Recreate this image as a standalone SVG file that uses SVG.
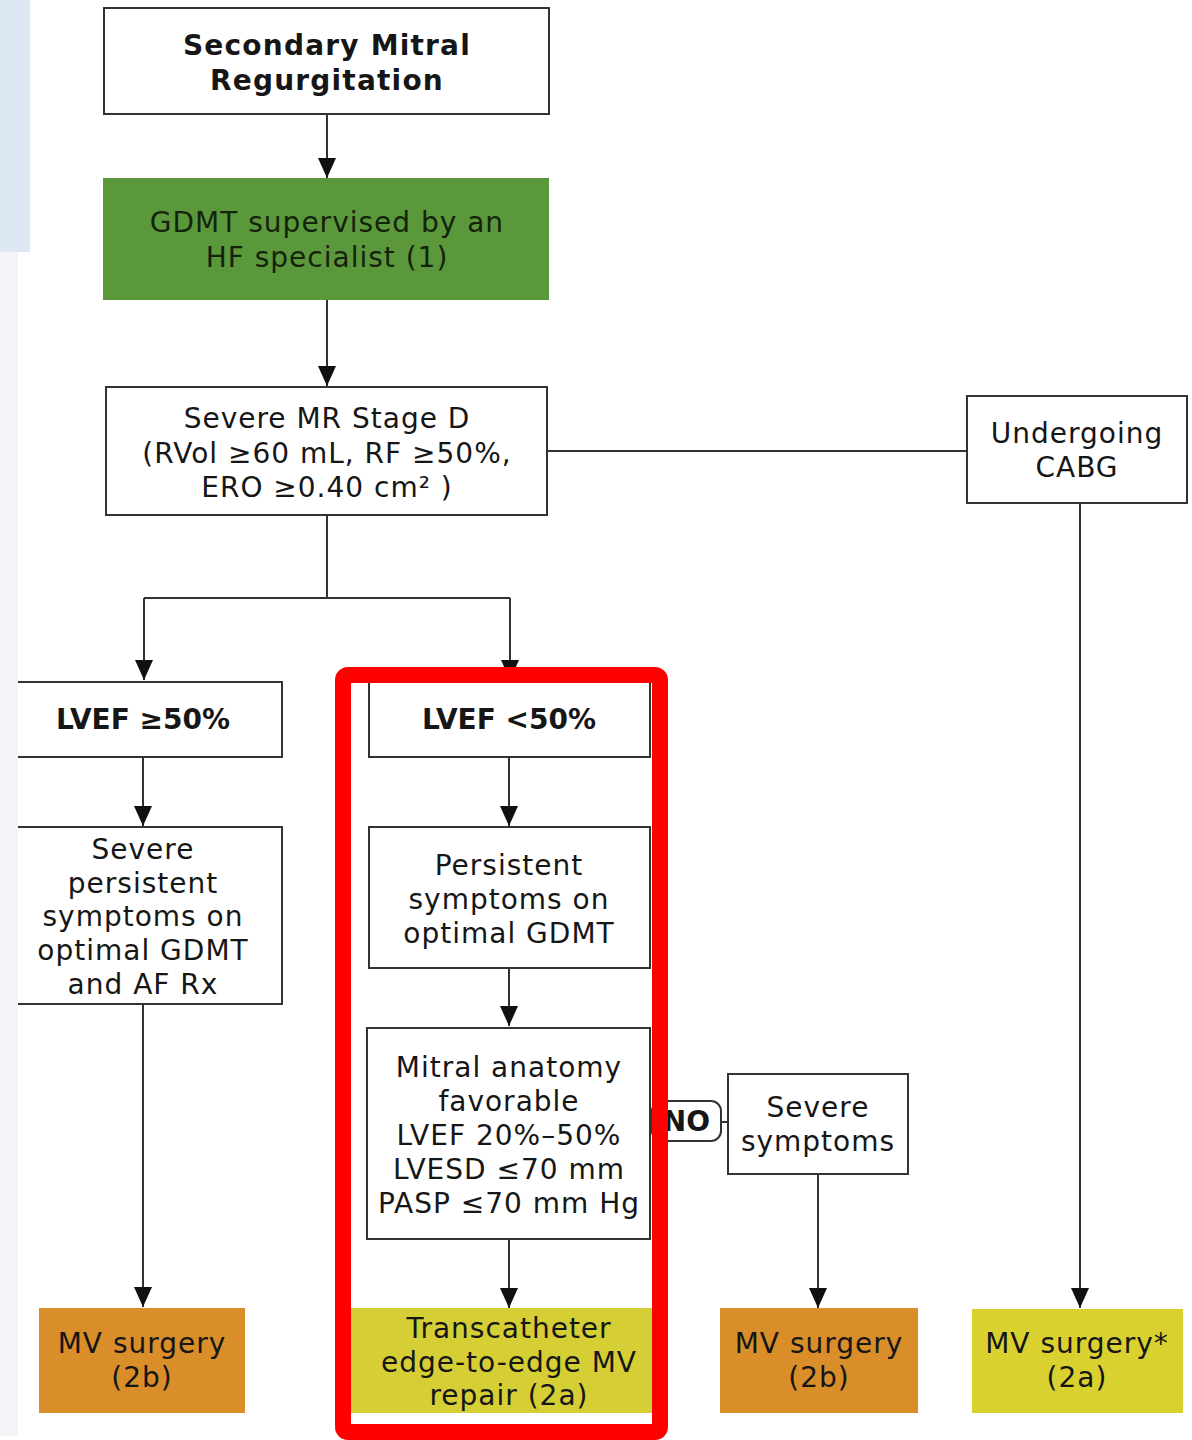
<svg xmlns="http://www.w3.org/2000/svg" width="1192" height="1440" viewBox="0 0 1192 1440">
  <defs>
    <marker id="ah" markerUnits="userSpaceOnUse" markerWidth="20" markerHeight="18" refX="20" refY="9" orient="auto">
      <path d="M0,0 L20,9 L0,18 Z" fill="#111"/>
    </marker>
    <style>
      .box { fill: #ffffff; stroke: #333; stroke-width: 2; }
      .green { fill: #5b983b; }
      .orange { fill: #d98e2a; }
      .yellow { fill: #d9d130; }
      .lime { fill: #d5ce35; }
      .t { font-family: "DejaVu Sans", "Liberation Sans", sans-serif; font-size: 28px; letter-spacing: 1px; fill: #161616; text-anchor: middle; }
      .b { font-weight: bold; letter-spacing: 1.2px; }
      .tight { letter-spacing: 0; }
      .dark { fill: #14230c; }
      .conn path { fill: none; stroke: #333; stroke-width: 2; }
      .arr { marker-end: url(#ah); }
    </style>
  </defs>

  <rect width="1192" height="1440" fill="#ffffff"/>
  <!-- top-left panel -->
  <rect x="0" y="0" width="30" height="252" fill="#dde8f4"/>

  <!-- connectors -->
  <g id="connectors" class="conn">
    <path class="arr" d="M327,115 V178"/>
    <path class="arr" d="M327,300 V386"/>
    <path d="M547,451 H967"/>
    <path class="arr" d="M1080,503 V1308"/>
    <path d="M327,515 V598"/>
    <path d="M144,598 H510"/>
    <path class="arr" d="M144,598 V680"/>
    <path class="arr" d="M510,598 V680"/>
    <path class="arr" d="M143,757 V826"/>
    <path class="arr" d="M143,1004 V1307"/>
    <path class="arr" d="M509,757 V826"/>
    <path class="arr" d="M509,968 V1026"/>
    <path class="arr" d="M509,1239 V1308"/>
    <path d="M650,1122 H668"/>
    <path d="M721,1122 H728"/>
    <path class="arr" d="M818,1174 V1308"/>
  </g>

  <g id="secondary-mr">
    <rect class="box" x="104" y="8" width="445" height="106"/>
    <text class="t b" x="327" y="55" font-size="30">Secondary Mitral</text>
    <text class="t b" x="327" y="90" font-size="30">Regurgitation</text>
  </g>

  <g id="gdmt">
    <rect class="green" x="103" y="178" width="446" height="122"/>
    <text class="t dark" x="327" y="232">GDMT supervised by an</text>
    <text class="t dark" x="327" y="267">HF specialist (1)</text>
  </g>

  <g id="stage-d">
    <rect class="box" x="106" y="387" width="441" height="128"/>
    <text class="t" x="327" y="428">Severe MR Stage D</text>
    <text class="t" x="327" y="463">(RVol ≥60 mL, RF ≥50%,</text>
    <text class="t" x="327" y="497">ERO ≥0.40 cm² )</text>
  </g>

  <g id="cabg">
    <rect class="box" x="967" y="396" width="220" height="107"/>
    <text class="t" x="1077" y="443">Undergoing</text>
    <text class="t" x="1077" y="477">CABG</text>
  </g>

  <g id="lvef-preserved">
    <rect class="box" x="8" y="682" width="274" height="75"/>
    <text class="t b tight" x="143" y="729">LVEF ≥50%</text>
  </g>

  <g id="severe-persistent">
    <rect class="box" x="8" y="827" width="274" height="177"/>
    <text class="t" x="143" y="859">Severe</text>
    <text class="t" x="143" y="893">persistent</text>
    <text class="t" x="143" y="926">symptoms on</text>
    <text class="t" x="143" y="960">optimal GDMT</text>
    <text class="t" x="143" y="994">and AF Rx</text>
  </g>

  <!-- pale strip along the left edge, over the clipped boxes -->
  <rect x="0" y="252" width="18" height="1184" fill="#f4f5f8"/>

  <g id="mv-surgery-left">
    <rect class="orange" x="39" y="1308" width="206" height="105"/>
    <text class="t" x="142" y="1353">MV surgery</text>
    <text class="t" x="142" y="1387">(2b)</text>
  </g>

  <g id="lvef-reduced">
    <rect class="box" x="369" y="682" width="281" height="75"/>
    <text class="t b tight" x="509" y="729">LVEF &lt;50%</text>
  </g>

  <g id="persistent">
    <rect class="box" x="369" y="827" width="281" height="141"/>
    <text class="t" x="509" y="875">Persistent</text>
    <text class="t" x="509" y="909">symptoms on</text>
    <text class="t" x="509" y="943">optimal GDMT</text>
  </g>

  <g id="mitral-anatomy">
    <rect class="box" x="367" y="1028" width="283" height="211"/>
    <text class="t" x="509" y="1077">Mitral anatomy</text>
    <text class="t" x="509" y="1111">favorable</text>
    <text class="t" x="509" y="1145">LVEF 20%–50%</text>
    <text class="t" x="509" y="1179">LVESD ≤70 mm</text>
    <text class="t" x="509" y="1213">PASP ≤70 mm Hg</text>
  </g>

  <g id="teer">
    <rect class="lime" x="351" y="1308" width="301" height="105"/>
    <text class="t" x="509" y="1338">Transcatheter</text>
    <text class="t" x="509" y="1372">edge-to-edge MV</text>
    <text class="t" x="509" y="1405">repair (2a)</text>
  </g>

  <g id="no-label">
    <rect x="652" y="1101" width="69" height="40" rx="10" fill="#ffffff" stroke="#333" stroke-width="2"/>
    <text class="t b" x="710" y="1131" style="text-anchor:end; letter-spacing:0" font-size="25">NO</text>
  </g>

  <g id="severe-symptoms">
    <rect class="box" x="728" y="1074" width="180" height="100"/>
    <text class="t" x="818" y="1117">Severe</text>
    <text class="t" x="818" y="1151">symptoms</text>
  </g>

  <g id="mv-surgery-mid">
    <rect class="orange" x="720" y="1308" width="198" height="105"/>
    <text class="t" x="819" y="1353">MV surgery</text>
    <text class="t" x="819" y="1387">(2b)</text>
  </g>

  <g id="mv-surgery-cabg">
    <rect class="yellow" x="972" y="1309" width="211" height="104"/>
    <text class="t" x="1077" y="1353">MV surgery*</text>
    <text class="t" x="1077" y="1387">(2a)</text>
  </g>

  <!-- highlight frame around the reduced-LVEF pathway -->
  <rect id="highlight" x="343" y="675" width="317" height="757" rx="5" fill="none" stroke="#ff0000" stroke-width="16"/>
</svg>
